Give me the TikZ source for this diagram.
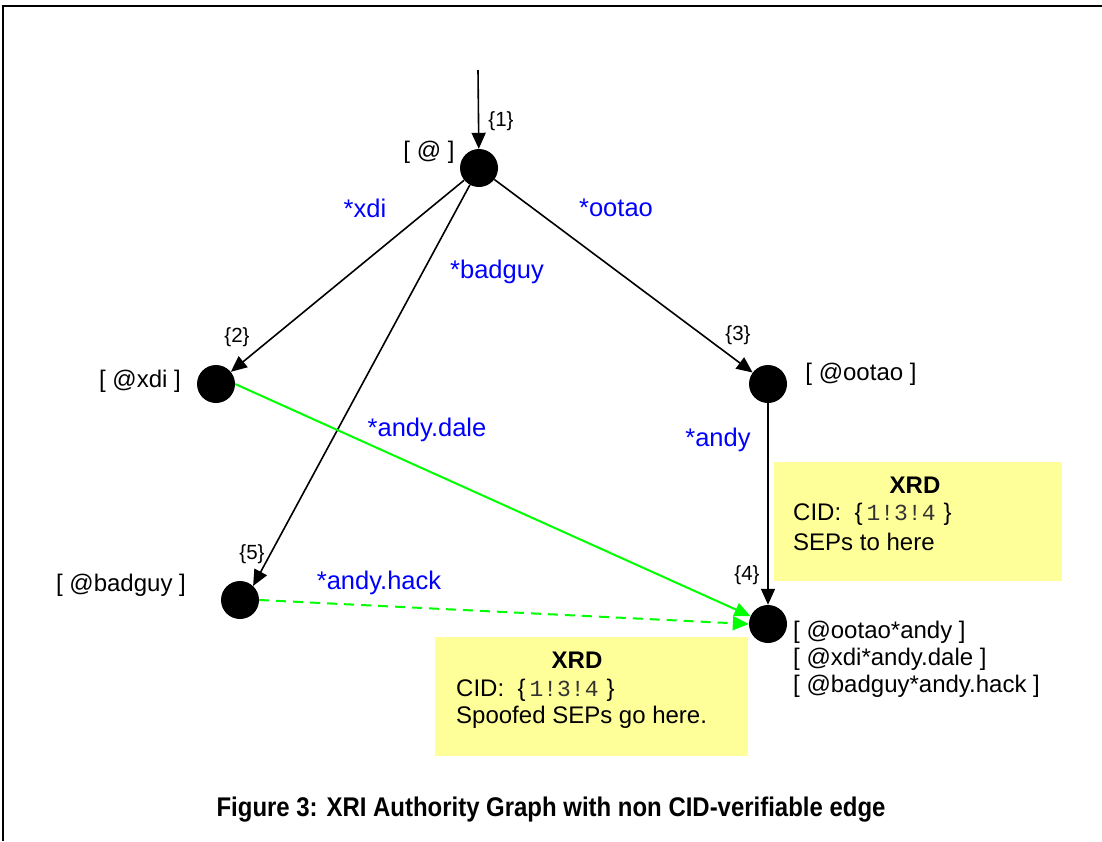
\documentclass[tikz,border=0pt]{standalone}
\usepackage{fontspec}
\setmainfont{Liberation Sans}
\newfontfamily\monofont{Liberation Mono}
\usetikzlibrary{arrows.meta}
\definecolor{lblue}{HTML}{0000FF}
\definecolor{lgreen}{HTML}{00FF00}
\definecolor{xyellow}{HTML}{FFFF99}
\definecolor{monogray}{HTML}{333333}
\begin{document}
\begin{tikzpicture}[x=1pt,y=-1pt,
  vert/.style={circle,fill=black,minimum size=38pt,inner sep=0pt},
  arr/.style={line width=1.6pt,-{Triangle[length=16pt,width=14pt]}},
  garr/.style={line width=2pt,lgreen,-{Triangle[length=16pt,width=14pt]}},
  lbl/.style={font=\fontsize{24}{28}\selectfont,inner sep=0pt},
  elbl/.style={font=\fontsize{25.5}{29}\selectfont,text=lblue,inner sep=0pt},
  num/.style={font=\fontsize{20.5}{23}\selectfont,inner sep=0pt},
  xrd/.style={fill=xyellow,draw=none},
  boxtxt/.style={font=\fontsize{24}{28}\selectfont,inner sep=0pt,anchor=west}
]
\useasboundingbox (0,0) rectangle (1102,841);
\fill[white] (0,0) rectangle (1102,841);
\draw[line width=2pt] (3,841) -- (3,5.5) -- (1102,5.5);

% yellow boxes
\node[xrd,minimum width=288pt,minimum height=119pt,anchor=north west] (box1) at (774,462) {};
\node[xrd,minimum width=313pt,minimum height=119pt,anchor=north west] (box2) at (435,637) {};

% vertices
\node[vert] (n1) at (479,168) {};
\node[vert] (n2) at (216,384) {};
\node[vert] (n3) at (768,384) {};
\node[vert] (n5) at (240,600) {};
\node[vert] (n4) at (768,624) {};
\coordinate (top) at (478,70);

% edges
\draw[arr] (top) -- (n1);
\draw[arr] (n1) -- (n2);
\draw[arr] (n1) -- (n3);
\draw[arr] (n1) -- (n5.47);
\draw[arr] (n3) -- (n4);
\draw[garr] (n2.east) -- (n4);
\draw[garr,dashed,dash pattern=on 10pt off 7pt] (n5.east) -- (n4.west);

% vertex labels
\node[num] (l1) at (501,121) {\{1\}};
\node[num] (l2) at (237,337) {\{2\}};
\node[num] (l3) at (738,335) {\{3\}};
\node[num] (l4) at (747,575) {\{4\}};
\node[num] (l5) at (252,554) {\{5\}};
\node[lbl] (t1) at (429,152) {[ @ ]};
\node[lbl] (t2) at (140,381) {[ @xdi ]};
\node[lbl] (t3) at (861,374) {[ @ootao ]};
\node[lbl] (t5) at (121,585) {[ @badguy ]};
\node[lbl,anchor=west] (t4a) at (793,632) {[ @ootao*andy ]};
\node[lbl,anchor=west] (t4b) at (793,659) {[ @xdi*andy.dale ]};
\node[lbl,anchor=west] (t4c) at (793,686) {[ @badguy*andy.hack ]};

% edge labels
\node[elbl] (e12) at (365,208) {*xdi};
\node[elbl] (e13) at (616,208) {*ootao};
\node[elbl] (e15) at (497,272) {*badguy};
\node[elbl] (e24) at (427,430) {*andy.dale};
\node[elbl] (e34) at (718,440) {*andy};
\node[elbl] (e54) at (379,583) {*andy.hack};

% box texts
\node[lbl,font=\fontsize{24}{28}\selectfont\bfseries] (x1) at (915,485) {XRD};
\node[boxtxt] (c1) at (793,514) {CID:\ \ \{\,{\monofont\fontsize{23}{26}\selectfont\color{monogray}1!3!4}\,\,\}};
\node[boxtxt] (s1) at (793,542) {SEPs to here};
\node[lbl,font=\fontsize{24}{28}\selectfont\bfseries] (x2) at (577,660) {XRD};
\node[boxtxt] (c2) at (456,690) {CID:\ \ \{\,{\monofont\fontsize{23}{26}\selectfont\color{monogray}1!3!4}\,\,\}};
\node[boxtxt] (s2) at (456,717) {Spoofed SEPs go here.};

% caption
\node[inner sep=0pt] (cap) at (551,810) {\scalebox{0.887}[1]{\fontsize{27}{30}\selectfont\bfseries Figure 3: XRI Authority Graph with non CID-verifiable edge}};
\end{tikzpicture}
\end{document}
